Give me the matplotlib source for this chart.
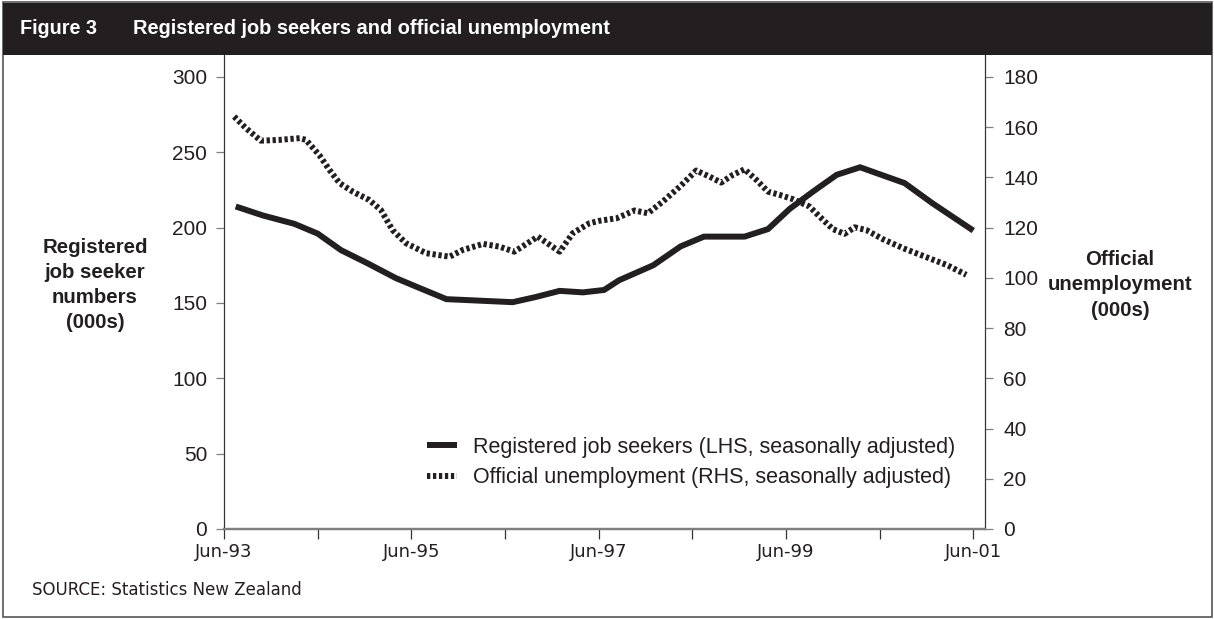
import matplotlib
matplotlib.use('Agg')
import matplotlib.pyplot as plt
from matplotlib.patches import Rectangle

# Registered job seekers (LHS, 000s) - months since Jun-93
seekers_month = [1.5, 5, 9, 12, 15, 18.5, 22, 25, 28.5, 37, 40, 43, 46, 48.7, 50.6,
                 55, 58.5, 61.5, 66.7, 69.7, 72.5, 75.5, 78.5, 81.5, 87.2, 90.8, 96]
seekers = [214, 208, 202.5, 196, 185, 176, 166.5, 160, 152.5, 150.5, 154, 158, 157, 158.6, 165,
           175, 187.5, 194, 194, 199, 212.5, 224, 235, 240, 229.5, 216, 198]

# Official unemployment (RHS, 000s)
unemp_month = [1.3, 2.8, 4.7, 7.1, 9.7, 10.5, 12.2, 13.5, 14.8, 16.5, 18.6, 20.1, 21.6, 23.3,
               25.9, 28.9, 30.6, 33.2, 35.3, 37.2, 40.2, 43.0, 44.7, 46.8, 48.1, 50.3, 52.6,
               54.3, 56.2, 58.4, 60.5, 62.2, 63.7, 65.2, 66.7, 68.2, 69.7, 71.2, 72.9, 75.0,
               76.3, 78.0, 79.5, 80.8, 82.3, 84.4, 87.0, 90.0, 92.6, 95.1]
unemp = [164.2, 159.6, 154.6, 154.9, 155.6, 154.9, 148.9, 143, 137.7, 134.3, 131, 127, 119, 113.8,
         109.8, 108.4, 111.1, 113.5, 112.4, 110.4, 116.4, 110.4, 117.8, 121.7, 122.7, 123.7, 126.8,
         125.7, 130.3, 136.3, 142.7, 140.3, 137.9, 141, 143.2, 139, 134.3, 133, 131.3, 128.4,
         124.4, 119.4, 117.5, 120.1, 119, 115.4, 111.8, 108.2, 105.1, 101.2]

tick_months = [0, 12, 24, 36, 48, 60, 72, 84, 96]
tick_labels = ['Jun-93', '', 'Jun-95', '', 'Jun-97', '', 'Jun-99', '', 'Jun-01']

ink = '#231f20'
grey = '#7f7f7f'

W, H = 1214, 619
fig = plt.figure(figsize=(W / 100, H / 100), dpi=100)

# frame and header bar
fig.patches.append(Rectangle((3 / W, 2 / H), 1209 / W, 615 / H, transform=fig.transFigure,
                             fill=False, edgecolor='#555555', lw=1.2))
fig.patches.append(Rectangle((3 / W, 1 - 55 / H), 1209 / W, 52 / H, transform=fig.transFigure,
                             facecolor=ink, edgecolor='none'))
fig.text(20 / W, 1 - 28 / H, 'Figure 3', color='white', fontsize=14.2, fontweight='bold',
         family='Liberation Sans', va='center')
fig.text(133 / W, 1 - 28 / H, 'Registered job seekers and official unemployment', color='white',
         fontsize=14.4, fontweight='bold', family='Liberation Sans', va='center')

ax = fig.add_axes([224 / W, 1 - 529 / H, 761 / W, 474 / H])
ax2 = ax.twinx()

l1, = ax.plot(seekers_month, seekers, color=ink, lw=4.3, solid_capstyle='butt',
              solid_joinstyle='miter', label='Registered job seekers (LHS, seasonally adjusted)')
l2, = ax2.plot(unemp_month, unemp, color=ink, lw=4.3, linestyle=(0, (0.55, 0.45)),
               dash_capstyle='butt', label='Official unemployment (RHS, seasonally adjusted)')

ax.set_xlim(0, 97.5)
ax.set_ylim(0, 314.5)
ax2.set_ylim(0, 188.7)
ax.set_yticks(range(0, 301, 50))
ax2.set_yticks(range(0, 181, 20))
ax.set_xticks(tick_months)
ax.set_xticklabels(tick_labels, family='Liberation Sans Narrow', fontsize=13)

for a in (ax, ax2):
    a.spines['top'].set_visible(False)
    a.spines['left'].set_linewidth(0.8)
    a.spines['right'].set_linewidth(0.8)
    a.spines['left'].set_color('#333333')
    a.spines['right'].set_color('#333333')
    a.spines['bottom'].set_color(grey)
    a.spines['bottom'].set_linewidth(1.6)
    a.set_facecolor('none')

ax.tick_params(axis='y', length=6, width=0.9, color=grey, pad=6, labelsize=15, labelcolor=ink)
ax2.tick_params(axis='y', length=6, width=0.9, color=grey, pad=7, labelsize=15, labelcolor=ink)
ax.tick_params(axis='x', length=7, width=0.9, color='#333333', pad=3, labelcolor=ink)
for lab in ax.get_yticklabels() + ax2.get_yticklabels():
    lab.set_family('Liberation Sans')

fig.text(95 / W, 1 - 285 / H, 'Registered\njob seeker\nnumbers\n(000s)', ha='center', va='center',
         fontsize=14.7, fontweight='bold', family='Liberation Sans', color=ink, linespacing=1.42)
fig.text(1120 / W, 1 - 285 / H, 'Official\nunemployment\n(000s)', ha='center', va='center',
         fontsize=14.7, fontweight='bold', family='Liberation Sans', color=ink, linespacing=1.42)

leg = ax.legend(handles=[l1, l2], loc='upper left', bbox_to_anchor=(418 / W, 1 - 428 / H),
                bbox_transform=fig.transFigure, frameon=False, handlelength=1.4,
                handletextpad=0.75, labelspacing=0.45, borderaxespad=0,
                prop={'family': 'Liberation Sans', 'size': 15.5})
for t in leg.get_texts():
    t.set_color(ink)

fig.text(32 / W, 1 - 590 / H, 'SOURCE: Statistics New Zealand', fontsize=12,
         family='Liberation Sans Narrow', color=ink, va='center')

fig.savefig('out.png', dpi=100)
